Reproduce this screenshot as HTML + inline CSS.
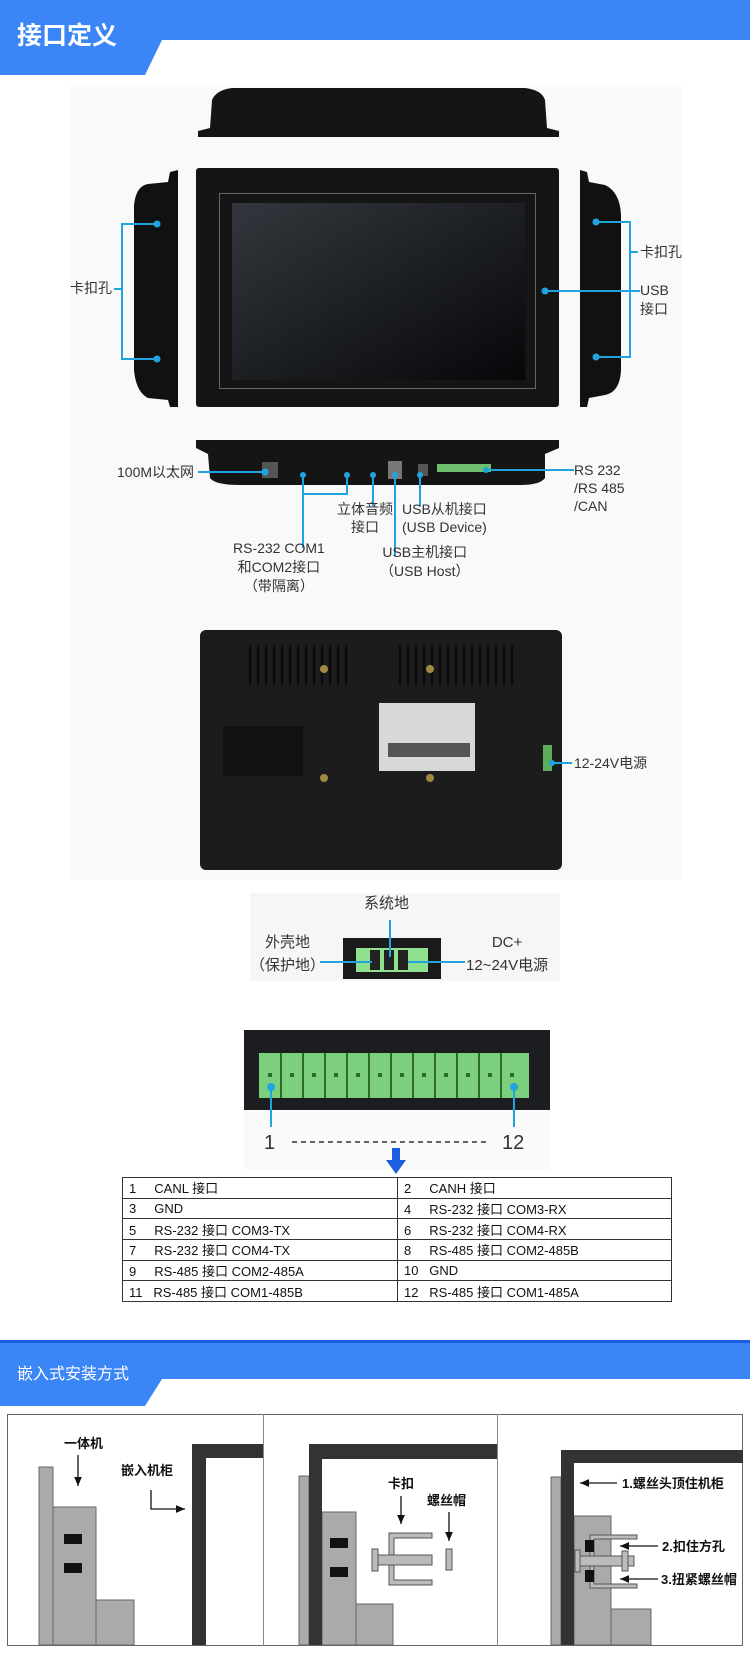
<!DOCTYPE html>
<html><head><meta charset="utf-8"><style>
*{margin:0;padding:0;box-sizing:border-box}
body{width:750px;height:1664px;background:#fff;position:relative;overflow:hidden;font-family:"Liberation Sans","Noto Sans CJK SC",sans-serif}
.a{position:absolute}
.lbl{position:absolute;font-size:14px;color:#333;line-height:19px;white-space:nowrap}
table{border-collapse:collapse;font-size:13px;color:#111}
td{border:1px solid #333;height:20.7px;padding:0 0 0 6px}
</style></head><body>
<svg class="a" style="left:0;top:0" width="750" height="80">
<rect x="0" y="0" width="750" height="40" fill="#3a86f7"/>
<polygon points="0,0 162,0 162,40 145,75 0,75" fill="#3a86f7"/>
</svg>
<div class="a" style="left:17px;top:16px;font-size:25px;font-weight:bold;color:#fff">接口定义</div>

<div class="a" style="left:70px;top:85px;width:612px;height:795px;background:#f9f9f9"></div>
<svg class="a" style="left:0;top:0" width="750" height="1000">
<defs><linearGradient id="scr" x1="0" y1="0" x2="1" y2="1"><stop offset="0" stop-color="#33373d"/><stop offset="1" stop-color="#060709"/></linearGradient></defs>
<!-- top device -->
<path d="M210,128 L212,100 Q216,90 232,88 L525,88 Q542,90 545,100 L547,128 L559,131 L559,137 L198,137 L198,131 Z" fill="#151515"/>
<!-- front -->
<rect x="196" y="168" width="363" height="239" rx="3" fill="#151515"/>
<rect x="219.5" y="193.5" width="316" height="195" fill="none" stroke="#666" stroke-width="1"/>
<rect x="232" y="203" width="293" height="177" fill="url(#scr)"/>
<!-- left side -->
<path d="M170,172 L178,170 L178,407 L170,407 L168,400 L148,398 Q136,392 134,370 L134,205 Q136,186 148,184 L168,182 Z" fill="#111"/>
<!-- right side -->
<path d="M580,170 L587,172 L589,182 L605,185 Q620,192 621,215 L621,370 Q620,392 605,395 L589,398 L587,407 L580,407 Z" fill="#111"/>
<!-- bottom device -->
<path d="M196,440 L559,440 L559,448 L545,454 L545,478 Q540,485 520,485 L240,485 Q215,485 210,478 L208,454 L196,448 Z" fill="#151515"/>
<rect x="437" y="464" width="54" height="8" fill="#6fbf6f"/>
<rect x="388" y="461" width="14" height="18" fill="#777"/>
<rect x="418" y="464" width="10" height="12" fill="#555"/>
<rect x="262" y="462" width="16" height="16" fill="#555"/>
<g stroke="#1fa4e0" stroke-width="2" fill="none">
<path d="M157,224 L122,224 L122,359 L157,359 M122,289 L114,289"/>
<path d="M596,222 L630,222 L630,357 L596,357 M630,252 L638,252"/>
<path d="M545,291 L640,291"/>
<path d="M198,472 L265,472"/>
<path d="M303,475 L303,548 M303,494 L347,494 L347,475"/>
<path d="M373,475 L373,506"/>
<path d="M395,475 L395,556"/>
<path d="M420,475 L420,506"/>
<path d="M486,470 L574,470"/>
</g>
<g fill="#1fa4e0"><circle cx="157" cy="224" r="3.5"/><circle cx="157" cy="359" r="3.5"/><circle cx="596" cy="222" r="3.5"/><circle cx="596" cy="357" r="3.5"/><circle cx="545" cy="291" r="3.5"/><circle cx="265" cy="472" r="3.5"/><circle cx="303" cy="475" r="3"/><circle cx="347" cy="475" r="3"/><circle cx="373" cy="475" r="3"/><circle cx="395" cy="475" r="3"/><circle cx="420" cy="475" r="3"/><circle cx="486" cy="470" r="3"/></g>
<!-- back device -->
<rect x="200" y="630" width="362" height="240" rx="6" fill="#1c1c1c"/>
<g stroke="#0a0a0a" stroke-width="2.5">
<path d="M250,645 V685 M258,645 V685 M266,645 V685 M274,645 V685 M282,645 V685 M290,645 V685 M298,645 V685 M306,645 V685 M314,645 V685 M322,645 V685 M330,645 V685 M338,645 V685 M346,645 V685"/>
<path d="M400,645 V685 M408,645 V685 M416,645 V685 M424,645 V685 M432,645 V685 M440,645 V685 M448,645 V685 M456,645 V685 M464,645 V685 M472,645 V685 M480,645 V685 M488,645 V685 M496,645 V685 M504,645 V685 M512,645 V685"/>
</g>
<rect x="223" y="726" width="80" height="50" fill="#111"/>
<rect x="379" y="703" width="96" height="68" fill="#d8d8d8"/>
<rect x="388" y="743" width="82" height="14" fill="#555"/>
<circle cx="324" cy="669" r="4" fill="#a08a40"/><circle cx="430" cy="669" r="4" fill="#a08a40"/>
<circle cx="324" cy="778" r="4" fill="#a08a40"/><circle cx="430" cy="778" r="4" fill="#a08a40"/>
<rect x="543" y="745" width="9" height="26" fill="#5cae5c"/>
<path d="M552,763 L572,763" stroke="#1fa4e0" stroke-width="2"/><circle cx="552" cy="763" r="3" fill="#1fa4e0"/>
<!-- power connector -->
<rect x="250" y="893" width="310" height="88" fill="#f6f6f6"/>
<rect x="343" y="938" width="98" height="41" fill="#1a1a1a"/>
<rect x="356" y="948" width="72" height="24" fill="#8fe08f"/>
<rect x="370" y="950" width="10" height="20" fill="#222"/><rect x="384" y="950" width="10" height="20" fill="#222"/><rect x="398" y="950" width="10" height="20" fill="#222"/>
<g stroke="#1fa4e0" stroke-width="2"><path d="M320,962 L372,962 M390,957 L390,920 M408,962 L465,962"/></g>
</svg>
<div class="lbl" style="left:70px;top:279px">卡扣孔</div>
<div class="lbl" style="left:640px;top:243px">卡扣孔</div>
<div class="lbl" style="left:640px;top:281px">USB<br>接口</div>
<div class="lbl" style="left:117px;top:463px">100M以太网</div>
<div class="lbl" style="left:574px;top:461px;line-height:18px">RS 232<br>/RS 485<br>/CAN</div>
<div class="lbl" style="left:337px;top:500px;text-align:center;line-height:18px">立体音频<br>接口</div>
<div class="lbl" style="left:402px;top:500px;text-align:center;line-height:18px">USB从机接口<br>(USB Device)</div>
<div class="lbl" style="left:233px;top:539px;text-align:center;line-height:19px">RS-232 COM1<br>和COM2接口<br>（带隔离）</div>
<div class="lbl" style="left:380px;top:543px;text-align:center;line-height:19px">USB主机接口<br>（USB Host）</div>
<div class="lbl" style="left:574px;top:754px">12-24V电源</div>
<div class="lbl" style="left:364px;top:894px;font-size:15px">系统地</div>
<div class="lbl" style="left:250px;top:931px;font-size:15px;text-align:center;line-height:23px">外壳地<br>（保护地）</div>
<div class="lbl" style="left:466px;top:931px;font-size:15px;text-align:center;line-height:23px">DC+<br>12~24V电源</div>

<svg class="a" style="left:0;top:1030px" width="750" height="150">
<rect x="244" y="0" width="306" height="80" fill="#1c1d20"/>
<rect x="259" y="23" width="270" height="45" fill="#7ccf7c"/>
<g stroke="#2d6a2d" stroke-width="2"><path d="M281,23 V68 M303,23 V68 M325,23 V68 M347,23 V68 M369,23 V68 M391,23 V68 M413,23 V68 M435,23 V68 M457,23 V68 M479,23 V68 M501,23 V68"/></g>
<g fill="#2d6a2d"><rect x="268" y="43" width="4" height="4"/><rect x="290" y="43" width="4" height="4"/><rect x="312" y="43" width="4" height="4"/><rect x="334" y="43" width="4" height="4"/><rect x="356" y="43" width="4" height="4"/><rect x="378" y="43" width="4" height="4"/><rect x="400" y="43" width="4" height="4"/><rect x="422" y="43" width="4" height="4"/><rect x="444" y="43" width="4" height="4"/><rect x="466" y="43" width="4" height="4"/><rect x="488" y="43" width="4" height="4"/><rect x="510" y="43" width="4" height="4"/></g>
<rect x="244" y="80" width="306" height="60" fill="#fafafa"/>
<g stroke="#1fa4e0" stroke-width="2"><path d="M271,57 V97 M514,57 V97"/></g>
<circle cx="271" cy="57" r="4" fill="#1fa4e0"/><circle cx="514" cy="57" r="4" fill="#1fa4e0"/>
<text x="264" y="119" font-size="20" fill="#333" font-family="Liberation Sans">1</text>
<text x="502" y="119" font-size="20" fill="#333" font-family="Liberation Sans">12</text>
<path d="M292,112 L487,112" stroke="#333" stroke-width="1.5" stroke-dasharray="5,4"/>
<rect x="392" y="118" width="8" height="14" fill="#1a5fe0"/>
<polygon points="386,130 406,130 396,144" fill="#1a5fe0"/>
</svg>
<table class="a" style="left:122px;top:1177px;width:550px">
<tr><td style="width:275px">1&nbsp;&nbsp;&nbsp;&nbsp;&nbsp;CANL 接口</td><td>2&nbsp;&nbsp;&nbsp;&nbsp;&nbsp;CANH 接口</td></tr>
<tr><td>3&nbsp;&nbsp;&nbsp;&nbsp;&nbsp;GND</td><td>4&nbsp;&nbsp;&nbsp;&nbsp;&nbsp;RS-232 接口 COM3-RX</td></tr>
<tr><td>5&nbsp;&nbsp;&nbsp;&nbsp;&nbsp;RS-232 接口 COM3-TX</td><td>6&nbsp;&nbsp;&nbsp;&nbsp;&nbsp;RS-232 接口 COM4-RX</td></tr>
<tr><td>7&nbsp;&nbsp;&nbsp;&nbsp;&nbsp;RS-232 接口 COM4-TX</td><td>8&nbsp;&nbsp;&nbsp;&nbsp;&nbsp;RS-485 接口 COM2-485B</td></tr>
<tr><td>9&nbsp;&nbsp;&nbsp;&nbsp;&nbsp;RS-485 接口 COM2-485A</td><td>10&nbsp;&nbsp;&nbsp;GND</td></tr>
<tr><td>11&nbsp;&nbsp;&nbsp;RS-485 接口 COM1-485B</td><td>12&nbsp;&nbsp;&nbsp;RS-485 接口 COM1-485A</td></tr>
</table>

<svg class="a" style="left:0;top:1340px" width="750" height="70">
<rect x="0" y="0" width="750" height="3" fill="#1a5fe0"/>
<rect x="0" y="3" width="750" height="36" fill="#3a86f7"/>
<polygon points="0,3 162,3 162,39 145,66 0,66" fill="#3a86f7"/>
</svg>
<div class="a" style="left:17px;top:1360px;font-size:16px;color:#fff">嵌入式安装方式</div>

<svg class="a" style="left:0;top:0" width="750" height="1664" font-family="Liberation Sans, Noto Sans CJK SC, sans-serif">
<defs><marker id="ar" markerWidth="8" markerHeight="8" refX="7" refY="4" orient="auto"><path d="M0,1 L7,4 L0,7 Z" fill="#111"/></marker></defs>
<rect x="7.5" y="1414.5" width="735" height="231" fill="#fff" stroke="#666"/>
<path d="M263.5,1414 V1646 M497.5,1414 V1646" stroke="#888"/>
<g fill="#aaa" stroke="#666" stroke-width="1">
<rect x="39" y="1467" width="14" height="178"/><rect x="53" y="1507" width="43" height="138"/><rect x="96" y="1600" width="38" height="45"/>
<rect x="299" y="1476" width="10" height="169"/><rect x="322" y="1512" width="34" height="133"/><rect x="356" y="1604" width="37" height="41"/>
<rect x="551" y="1477" width="10" height="168"/><rect x="574" y="1516" width="37" height="129"/><rect x="611" y="1609" width="40" height="36"/>
</g>
<g fill="#111"><rect x="64" y="1534" width="18" height="10"/><rect x="64" y="1563" width="18" height="10"/><rect x="330" y="1538" width="18" height="10"/><rect x="330" y="1567" width="18" height="10"/></g>
<g fill="#333"><path d="M192,1444 H263 V1458 H206 V1645 H192 Z"/><path d="M309,1444 H497 V1459 H322 V1645 H309 Z"/><path d="M561,1450 H743 V1463 H574 V1645 H561 Z"/></g>
<g stroke="#111" stroke-width="1.3" fill="none">
<path d="M78,1455 V1486" marker-end="url(#ar)"/>
<path d="M151,1490 V1509 H185" marker-end="url(#ar)"/>
<path d="M401,1496 V1524" marker-end="url(#ar)"/>
<path d="M449,1512 V1541" marker-end="url(#ar)"/>
<path d="M617,1483 H580" marker-end="url(#ar)"/>
<path d="M658,1546 H620" marker-end="url(#ar)"/>
<path d="M658,1579 H620" marker-end="url(#ar)"/>
</g>
<g fill="#bbb" stroke="#555" stroke-width="1">
<path d="M389,1533 H432 V1538 H394 V1580 H432 V1585 H389 Z"/>
<rect x="378" y="1555" width="54" height="10"/><rect x="372" y="1549" width="6" height="22"/>
<rect x="446" y="1549" width="6" height="21"/>
<path d="M590,1535 H637 V1539 H594 V1584 H637 V1588 H590 Z"/>
<rect x="578" y="1556" width="56" height="10"/><rect x="575" y="1550" width="5" height="22"/><rect x="622" y="1551" width="6" height="20"/>
</g>
<g fill="#111"><rect x="585" y="1540" width="9" height="12"/><rect x="585" y="1570" width="9" height="12"/></g>
<g font-size="13" font-weight="bold" fill="#111">
<text x="64" y="1448">一体机</text><text x="121" y="1475">嵌入机柜</text>
<text x="388" y="1488">卡扣</text><text x="427" y="1505">螺丝帽</text>
<text x="622" y="1488">1.螺丝头顶住机柜</text><text x="662" y="1551">2.扣住方孔</text><text x="661" y="1584">3.扭紧螺丝帽</text>
</g>
</svg>
</body></html>
